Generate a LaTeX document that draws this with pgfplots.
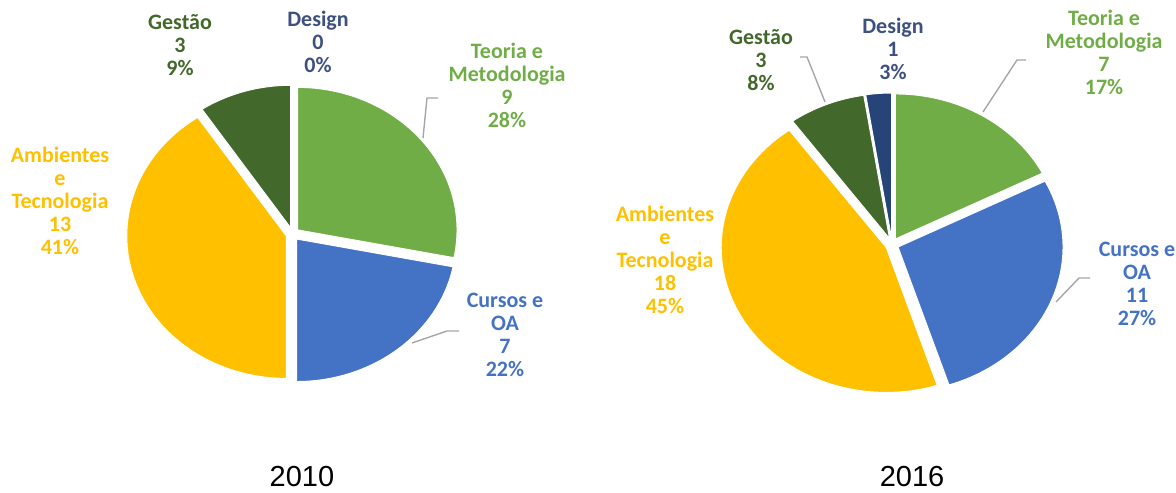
\documentclass[border=0pt]{standalone}
\usepackage{fontspec}
\setmainfont{Liberation Sans}
\newfontfamily\labfont{Carlito}
\usepackage{pgfplots}
\usepackage{pgfplotstable}
\pgfplotsset{compat=1.18}

\definecolor{cTeo}{HTML}{70AD47}
\definecolor{cCur}{HTML}{4472C4}
\definecolor{cAmb}{HTML}{FFC000}
\definecolor{cGes}{HTML}{43682B}
\definecolor{cDes}{HTML}{264478}
\definecolor{cDesT}{HTML}{3D5080}
\definecolor{cLead}{HTML}{A6A6A6}

\pgfplotstableread{
cat count
Teoria 9
Cursos 7
Ambientes 13
Gestao 3
Design 0
}\dataA
\pgfplotstableread{
cat count
Teoria 7
Cursos 11
Ambientes 18
Gestao 3
Design 1
}\dataB

% #1 table, #2 prefix, #3 cx, #4 cy, #5 rx, #6 ry, #7 explode
\newcommand\pieprep[7]{%
  \expandafter\xdef\csname #2rx\endcsname{#5}%
  \expandafter\xdef\csname #2ry\endcsname{#6}%
  \pgfplotstablegetrowsof{#1}%
  \pgfmathtruncatemacro\pNrows{\pgfplotsretval-1}%
  \def\pTot{0}%
  \pgfplotsforeachungrouped \i in {0,...,\pNrows}{%
    \pgfplotstablegetelem{\i}{count}\of{#1}%
    \pgfmathsetmacro\pTot{\pTot+\pgfplotsretval}%
  }%
  \def\pCum{0}%
  \pgfplotsforeachungrouped \i in {0,...,\pNrows}{%
    \pgfplotstablegetelem{\i}{count}\of{#1}%
    \pgfmathsetmacro\pSa{90-360*\pCum/\pTot}%
    \pgfmathsetmacro\pCum{\pCum+\pgfplotsretval}%
    \pgfmathsetmacro\pEa{90-360*\pCum/\pTot}%
    \pgfmathsetmacro\pMid{(\pSa+\pEa)/2}%
    \pgfmathsetmacro\pOx{#3+#7*cos(\pMid)}%
    \pgfmathsetmacro\pOy{#4-#7*sin(\pMid)}%
    \expandafter\xdef\csname #2s\i\endcsname{\pSa}%
    \expandafter\xdef\csname #2e\i\endcsname{\pEa}%
    \expandafter\xdef\csname #2x\i\endcsname{\pOx}%
    \expandafter\xdef\csname #2y\i\endcsname{\pOy}%
  }%
}

% #1 prefix, #2 row, #3 colour
\newcommand\drawslice[3]{%
  \edef\tmp{\noexpand\addplot[fill=#3, draw=white, line width=0.5pt,
    domain=\csname #1e#2\endcsname:\csname #1s#2\endcsname, samples=100]
    ({\csname #1x#2\endcsname+\csname #1rx\endcsname*cos(x)},
     {\csname #1y#2\endcsname-\csname #1ry\endcsname*sin(x)})
    -- (axis cs:\csname #1x#2\endcsname,\csname #1y#2\endcsname) -- cycle;}%
  \tmp}

\pieprep{\dataA}{A}{292.5}{234}{159.5}{142.5}{6.5}
\pieprep{\dataB}{B}{892}{244.5}{165}{145}{6.5}

\begin{document}
\begin{tikzpicture}[
  lab/.style={align=center, inner sep=0pt,
    font=\labfont\bfseries\fontsize{11}{11.5}\selectfont},
  lead/.style={draw=cLead, line width=0.7pt}]
\useasboundingbox (0,0) rectangle (588pt,246pt);
\begin{axis}[at={(0,0)}, anchor=south west,
  width=588pt, height=246pt, scale only axis,
  xmin=0, xmax=1176, ymin=0, ymax=492, y dir=reverse,
  hide axis, clip=false]
% 2010
\drawslice{A}{0}{cTeo}
\drawslice{A}{1}{cCur}
\drawslice{A}{2}{cAmb}
\drawslice{A}{3}{cGes}
% 2016
\drawslice{B}{0}{cTeo}
\drawslice{B}{1}{cCur}
\drawslice{B}{2}{cAmb}
\drawslice{B}{3}{cGes}
\drawslice{B}{4}{cDes}

% leader lines
\draw[lead] (axis cs:438,98) -- (axis cs:427,98) -- (axis cs:423,138);
\draw[lead] (axis cs:459,331) -- (axis cs:447,331) -- (axis cs:412,343);
\draw[lead] (axis cs:800,57) -- (axis cs:807,57) -- (axis cs:825,102);
\draw[lead] (axis cs:1026,60) -- (axis cs:1017,60) -- (axis cs:983,112);
\draw[lead] (axis cs:1090,278) -- (axis cs:1079,278) -- (axis cs:1056,302);

% labels 2010
\node[lab, text=cGes] at (axis cs:180,45.5) {Gestão\\3\\9\%};
\node[lab, text=cDesT] at (axis cs:318,41.5) {Design\\0\\0\%};
\node[lab, text=cTeo] at (axis cs:507,85.5) {Teoria e\\Metodologia\\9\\28\%};
\node[lab, text=cAmb] at (axis cs:60,200.5) {Ambientes\\e\\Tecnologia\\13\\41\%};
\node[lab, text=cCur] at (axis cs:505,334.5) {Cursos e\\OA\\7\\22\%};
% labels 2016
\node[lab, text=cGes] at (axis cs:761,60.5) {Gestão\\3\\8\%};
\node[lab, text=cDesT] at (axis cs:893,49) {Design\\1\\3\%};
\node[lab, text=cTeo] at (axis cs:1104,52.5) {Teoria e\\Metodologia\\7\\17\%};
\node[lab, text=cAmb] at (axis cs:665,260) {Ambientes\\e\\Tecnologia\\18\\45\%};
\node[lab, text=cCur] at (axis cs:1137,283.5) {Cursos e\\OA\\11\\27\%};

% years
\node[font=\fontsize{14.5}{17}\selectfont] at (axis cs:302,477) {2010};
\node[font=\fontsize{14.5}{17}\selectfont] at (axis cs:912,477) {2016};
\end{axis}
\end{tikzpicture}
\end{document}
